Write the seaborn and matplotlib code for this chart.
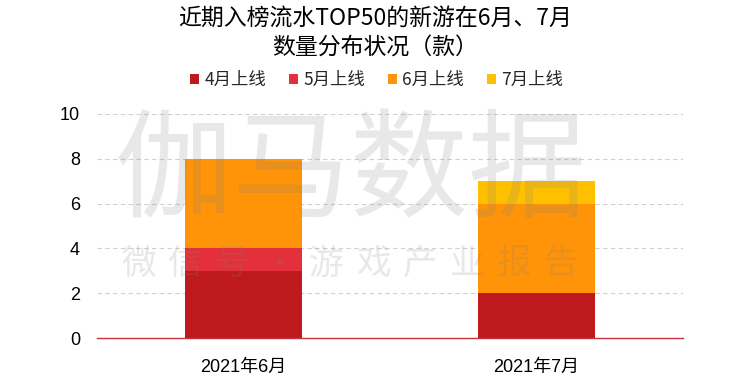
import numpy as np
import matplotlib
matplotlib.use('Agg')
import matplotlib.pyplot as plt
import seaborn as sns
from matplotlib.patches import Patch

# ─── Data ────────────────────────────────────────────────────────────────────
months = ['2021年6月', '2021年7月']
series = ['4月上线', '5月上线', '6月上线', '7月上线']
launch_apr = [3, 2]
launch_may = [1, 0]
launch_jun = [4, 4]
launch_jul = [0, 1]
colors = ['#BE1A1E', '#E3303A', '#FF9408', '#FFC000']
yticks = [0, 2, 4, 6, 8, 10]

sns.set_theme(style='white')
plt.rcParams['font.family'] = ['Noto Sans CJK SC', 'DejaVu Sans']
LATIN = ['Liberation Sans', 'Noto Sans CJK SC']

fig = plt.figure(figsize=(7.5, 3.9), dpi=100)
ax = fig.add_axes([0.129, 0.133, 0.782, 0.575])

bottom = np.zeros(len(months))
for vals, col in zip([launch_apr, launch_may, launch_jun, launch_jul], colors):
    sns.barplot(x=months, y=vals, bottom=bottom, color=col, width=0.4,
                saturation=1, edgecolor='none', linewidth=0, ax=ax, zorder=2)
    bottom = bottom + np.array(vals)

ax.set_xlim(-0.5, 1.5)
ax.set_ylim(0, 10)
ax.set_yticks(yticks)
ax.set_yticklabels([str(t) for t in yticks], family=LATIN, fontsize=13)
ax.set_xticks(range(len(months)))
ax.set_xticklabels(months, family=LATIN, fontsize=13)
ax.yaxis.grid(True, color='#D0D0D0', linestyle=(0, (4, 3)), linewidth=0.8, zorder=0)
ax.set_axisbelow(True)
for s in ['top', 'right', 'left']:
    ax.spines[s].set_visible(False)
ax.spines['bottom'].set_color('#C8323A')
ax.spines['bottom'].set_linewidth(1.0)
ax.tick_params(axis='y', length=0, pad=12, labelcolor='#000000')
ax.tick_params(axis='x', length=0, pad=15, labelcolor='#000000')
ax.set_xlabel('')
ax.set_ylabel('')

# watermark
fig.text(0.468, 0.552, '伽马数据', fontsize=85, fontweight='light', color='#808080',
         alpha=0.18, ha='center', va='center', zorder=10)
wm = '微信号·游戏产业报告'
for x, ch in zip(np.linspace(0.185, 0.748, len(wm)), wm):
    fig.text(x, 0.322, ch, fontsize=25, fontweight='light', color='#808080', alpha=0.18,
             ha='center', va='center', zorder=10)

fig.text(0.5, 0.953, '近期入榜流水TOP50的新游在6月、7月', fontsize=16.5,
         ha='center', va='center', color='#000000')
fig.text(0.5, 0.878, '数量分布状况（款）', fontsize=16.5,
         ha='center', va='center', color='#000000')

handles = [Patch(facecolor=c, edgecolor='none') for c in colors]
fig.legend(handles, series, loc='center', bbox_to_anchor=(0.502, 0.795), ncol=4,
           frameon=False, fontsize=12.5, handlelength=0.55, handleheight=0.55,
           handletextpad=0.3, columnspacing=1.3)

fig.savefig('out.png', dpi=100)
